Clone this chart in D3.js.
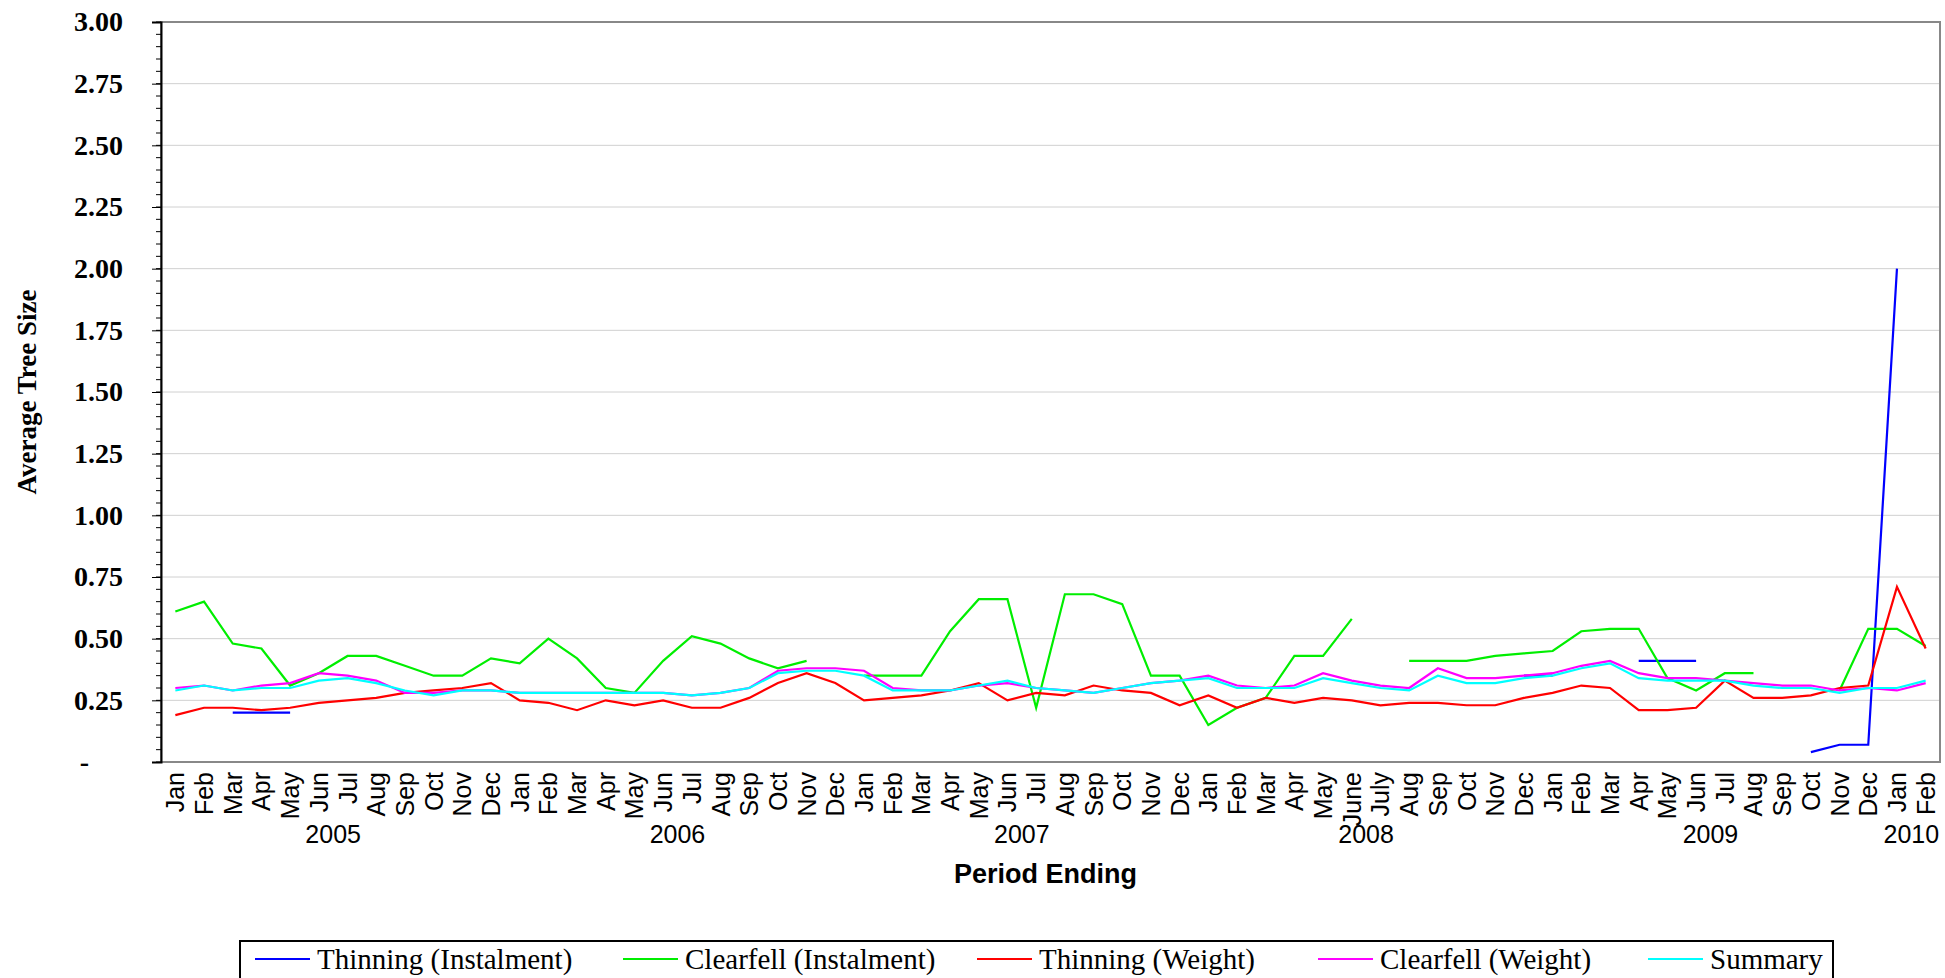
<!DOCTYPE html>
<html><head><meta charset="utf-8">
<script src="https://cdn.jsdelivr.net/npm/d3@7"></script>
<style>body{margin:0;background:#fff}</style></head>
<body><svg id="chart" width="1945" height="978"></svg>
<script>
const years = ['2005', '2006', '2007', '2008', '2009', '2010'];
const monthsByYear = [
  ['Jan','Feb','Mar','Apr','May','Jun','Jul','Aug','Sep','Oct','Nov','Dec'],
  ['Jan','Feb','Mar','Apr','May','Jun','Jul','Aug','Sep','Oct','Nov','Dec'],
  ['Jan','Feb','Mar','Apr','May','Jun','Jul','Aug','Sep','Oct','Nov','Dec'],
  ['Jan','Feb','Mar','Apr','May','June','July','Aug','Sep','Oct','Nov','Dec'],
  ['Jan','Feb','Mar','Apr','May','Jun','Jul','Aug','Sep','Oct','Nov','Dec'],
  ['Jan','Feb']
];
const _ = null;
const thinningInstalment = [
  _,_,0.20,0.20,0.20,_,_,_,_,_,_,_,
  _,_,_,_,_,_,_,_,_,_,_,_,
  _,_,_,_,_,_,_,_,_,_,_,_,
  _,_,_,_,_,_,_,_,_,_,_,0.35,
  0.35,_,_,0.41,0.41,0.41,_,_,_,0.04,0.07,0.07,
  2.00,_
];
const clearfellInstalment = [
  0.61,0.65,0.48,0.46,0.31,0.36,0.43,0.43,0.39,0.35,0.35,0.42,
  0.40,0.50,0.42,0.30,0.28,0.41,0.51,0.48,0.42,0.38,0.41,_,
  0.35,0.35,0.35,0.53,0.66,0.66,0.22,0.68,0.68,0.64,0.35,0.35,
  0.15,0.22,0.26,0.43,0.43,0.58,_,0.41,0.41,0.41,0.43,0.44,
  0.45,0.53,0.54,0.54,0.34,0.29,0.36,0.36,_,_,0.29,0.54,
  0.54,0.47
];
const thinningWeight = [
  0.19,0.22,0.22,0.21,0.22,0.24,0.25,0.26,0.28,0.29,0.30,0.32,
  0.25,0.24,0.21,0.25,0.23,0.25,0.22,0.22,0.26,0.32,0.36,0.32,
  0.25,0.26,0.27,0.29,0.32,0.25,0.28,0.27,0.31,0.29,0.28,0.23,
  0.27,0.22,0.26,0.24,0.26,0.25,0.23,0.24,0.24,0.23,0.23,0.26,
  0.28,0.31,0.30,0.21,0.21,0.22,0.33,0.26,0.26,0.27,0.30,0.31,
  0.71,0.46
];
const clearfellWeight = [
  0.30,0.31,0.29,0.31,0.32,0.36,0.35,0.33,0.28,0.28,0.29,0.29,
  0.28,0.28,0.28,0.28,0.28,0.28,0.27,0.28,0.30,0.37,0.38,0.38,
  0.37,0.30,0.29,0.29,0.31,0.32,0.30,0.29,0.28,0.30,0.32,0.33,
  0.35,0.31,0.30,0.31,0.36,0.33,0.31,0.30,0.38,0.34,0.34,0.35,
  0.36,0.39,0.41,0.36,0.34,0.34,0.33,0.32,0.31,0.31,0.29,0.30,
  0.29,0.32
];
const summary = [
  0.29,0.31,0.29,0.30,0.30,0.33,0.34,0.32,0.29,0.27,0.29,0.29,
  0.28,0.28,0.28,0.28,0.28,0.28,0.27,0.28,0.30,0.36,0.37,0.37,
  0.35,0.29,0.29,0.29,0.31,0.33,0.30,0.29,0.28,0.30,0.32,0.33,
  0.34,0.30,0.30,0.30,0.34,0.32,0.30,0.29,0.35,0.32,0.32,0.34,
  0.35,0.38,0.40,0.34,0.33,0.33,0.33,0.31,0.30,0.30,0.28,0.30,
  0.30,0.33
];
const seriesNames = ['Thinning (Instalment)','Clearfell (Instalment)','Thinning (Weight)','Clearfell (Weight)','Summary'];
const seriesColors = ['#0000ff','#00ee00','#ff0000','#ff00ff','#00ffff'];
const seriesData = [thinningInstalment, clearfellInstalment, thinningWeight, clearfellWeight, summary];

const cats = [];
monthsByYear.forEach((ms, yi) => ms.forEach(m => cats.push({year: years[yi], label: m, key: years[yi] + '-' + m})));

const L = 161, R = 1940, T = 22, B = 762;
const svg = d3.select('#chart');
const x = d3.scaleBand().domain(cats.map(c => c.key)).range([L, R]);
const y = d3.scaleLinear().domain([0, 3]).range([B, T]);

// gridlines
svg.append('g').selectAll('line').data(d3.range(0.25, 3.01, 0.25)).join('line')
  .attr('x1', L).attr('x2', R).attr('y1', d => y(d)).attr('y2', d => y(d))
  .attr('stroke', '#d0d0d0').attr('stroke-width', 1);
svg.append('rect').attr('x', L).attr('y', T).attr('width', R - L).attr('height', B - T)
  .attr('fill', 'none').attr('stroke', '#888').attr('stroke-width', 2);

// y axis
const yAxis = svg.append('g').attr('transform', `translate(${L},0)`)
  .call(d3.axisLeft(y).tickValues(d3.range(0, 3.01, 0.25)).tickSize(9)
    .tickFormat(d => d === 0 ? '-' : d3.format('.2f')(d)));
yAxis.select('.domain').attr('stroke', '#000').attr('stroke-width', 2);
yAxis.selectAll('.tick line').attr('stroke', '#000');
yAxis.selectAll('text').attr('font-family', 'Liberation Serif').attr('font-weight', 'bold')
  .attr('font-size', 28).attr('fill', '#000').attr('dx', d => d === 0 ? -60 : -26);
svg.append('g').selectAll('line').data(d3.range(0, 3.001, 0.05)).join('line')
  .attr('x1', L - 5).attr('x2', L).attr('y1', d => y(d)).attr('y2', d => y(d)).attr('stroke', '#000');

svg.append('text').attr('transform', `translate(36,${(T + B) / 2}) rotate(-90)`)
  .attr('text-anchor', 'middle').attr('font-family', 'Liberation Serif').attr('font-weight', 'bold')
  .attr('font-size', 27).text('Average Tree Size');

// x labels
svg.append('g').selectAll('text').data(cats).join('text')
  .attr('transform', c => `translate(${x(c.key) + x.bandwidth() / 2 + 9},${B + 10}) rotate(-90)`)
  .attr('text-anchor', 'end').attr('font-family', 'Liberation Sans').attr('font-size', 25)
  .text(c => c.label);

svg.append('g').selectAll('text').data(years).join('text')
  .attr('x', yr => {
    const ks = cats.filter(c => c.year === yr);
    return (x(ks[0].key) + x(ks[ks.length - 1].key) + x.bandwidth()) / 2;
  })
  .attr('y', 843).attr('text-anchor', 'middle').attr('font-family', 'Liberation Sans')
  .attr('font-size', 25).text(d => d);

svg.append('text').attr('x', (L + R) / 2 - 5).attr('y', 883).attr('text-anchor', 'middle')
  .attr('font-family', 'Liberation Sans').attr('font-weight', 'bold').attr('font-size', 27)
  .text('Period Ending');

// series
const line = d3.line().defined(d => d.v !== null)
  .x(d => x(d.k) + x.bandwidth() / 2).y(d => y(d.v));
seriesData.forEach((vals, i) => {
  svg.append('path').datum(vals.map((v, j) => ({k: cats[j].key, v})))
    .attr('d', line).attr('fill', 'none').attr('stroke', seriesColors[i]).attr('stroke-width', 2.2);
});

// legend
const lg = svg.append('g');
lg.append('rect').attr('x', 240).attr('y', 941).attr('width', 1593).attr('height', 40)
  .attr('fill', '#fff').attr('stroke', '#000').attr('stroke-width', 2);
const legX = [255, 623, 977, 1318, 1648];
seriesNames.forEach((n, i) => {
  lg.append('line').attr('x1', legX[i]).attr('x2', legX[i] + 55).attr('y1', 959).attr('y2', 959)
    .attr('stroke', seriesColors[i]).attr('stroke-width', 2);
  lg.append('text').attr('x', legX[i] + 62).attr('y', 969).attr('font-family', 'Liberation Serif')
    .attr('font-size', 29).text(n);
});
</script></body></html>
